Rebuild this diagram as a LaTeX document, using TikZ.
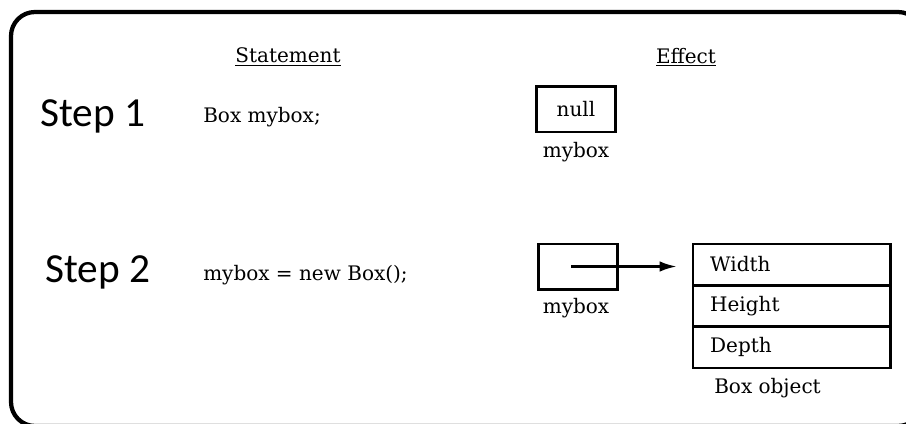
\documentclass[tikz,border=0pt]{standalone}
\usepackage{fontspec}
\setmainfont{DejaVu Serif}
\newfontfamily\stepfont{Carlito}
\usetikzlibrary{positioning,arrows.meta}

\begin{document}
\begin{tikzpicture}[x=0.75pt,y=-0.75pt,
	cell/.style={draw, line width=2pt, minimum width=59pt, minimum height=34pt, inner sep=0pt},
	field/.style={draw, line width=2pt, outer sep=0pt, minimum height=31pt, text width=122pt, inner xsep=13pt, inner ysep=0pt, align=left},
	txt/.style={font=\fontsize{15}{18}\selectfont, inner sep=0pt},
	steplabel/.style={font=\stepfont\fontsize{31}{36}\selectfont, inner sep=0pt}]
			\useasboundingbox (0,0) rectangle (906,424);
			\begin{scope}
			\clip (0,0) rectangle (906,424);
			\draw [line width=3.2pt, rounded corners=18pt] (11,12) rectangle (922,426);
			\end{scope}
			% headings
			\node [txt] (stmt) at (288,57) {\underline{Statement}};
			\node [txt] (effect) at (686,57) {\underline{Effect}};
			% step 1
			\node [steplabel, anchor=base west] (step1) at (40,127) {Step 1};
			\node [txt, anchor=base west] (decl) at (203,123) {Box mybox;};
			\node [txt, cell] (null) at (576,109.5) {null};
			\node [txt, anchor=base] (name1) at (576,158) {mybox};
			% step 2
			\node [steplabel, anchor=base west] (step2) at (45,282) {Step 2};
			\node [txt, anchor=base west] (alloc) at (203,280) {mybox = new Box();};
			\node [cell] (ptr) at (578,266.5) {};
			\node [txt, anchor=base] (name2) at (576,313) {mybox};
			\node [txt, field] (width) at (791.5,264.5) {Width};
			\node [txt, field, below=0pt of width] (height) {Height};
			\node [txt, field, below=0pt of height] (depth) {Depth};
			\node [txt, anchor=base west] (obj) at (714,393) {Box object};
			\draw [line width=2pt, -{Latex[length=13pt,width=8pt]}, shorten >=12pt] ([xshift=-5pt]ptr.center) -- (ptr.center -| width.west);
		\end{tikzpicture}
\end{document}
